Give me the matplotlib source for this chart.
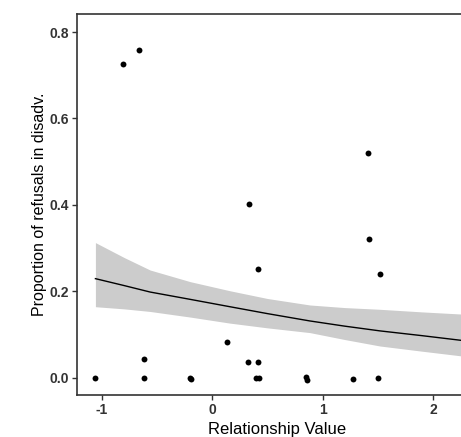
import matplotlib
matplotlib.use("Agg")
import matplotlib.pyplot as plt
import numpy as np

plt.rcParams['font.family'] = ['Liberation Sans', 'DejaVu Sans']

# relationship value / proportion of refusals for each dyad
rel_value = [-1.06, -0.81, -0.665, -0.616, -0.616, -0.20, -0.195, 0.136,
             0.327, 0.333, 0.40, 0.411, 0.411, 0.426, 0.85, 0.861,
             1.278, 1.409, 1.418, 1.506, 1.517]
prop_refusals = [0.0, 0.726, 0.758, 0.043, 0.0, 0.0, -0.003, 0.082,
                 0.037, 0.402, 0.0, 0.252, 0.037, 0.0, 0.002, -0.005,
                 -0.003, 0.521, 0.320, 0.0, 0.239]

# fitted model and its confidence band
fit_x = [-1.06, -0.8, -0.564, -0.2, 0.159, 0.5, 0.885, 1.2, 1.52, 1.9, 2.26, 2.5]
fit_y = [0.229, 0.213, 0.198, 0.181, 0.164, 0.148, 0.131, 0.119, 0.108, 0.097, 0.086, 0.080]
fit_lo = [0.164, 0.159, 0.153, 0.140, 0.126, 0.115, 0.104, 0.088, 0.073, 0.061, 0.050, 0.044]
fit_hi = [0.3125, 0.278, 0.249, 0.222, 0.201, 0.183, 0.168, 0.162, 0.158, 0.152, 0.147, 0.145]

xticks = [-1, 0, 1, 2]
yticks = [0.0, 0.2, 0.4, 0.6, 0.8]

fig = plt.figure(figsize=(4.61, 4.37), dpi=100)
ax = fig.add_axes([77/461, 42/437, 400/461, 381/437])

ax.fill_between(fit_x, fit_lo, fit_hi, color='#cccccc', linewidth=0, zorder=1)
ax.plot(fit_x, fit_y, color='black', linewidth=1.0, zorder=2)
ax.scatter(rel_value, prop_refusals, s=18, color='black', linewidths=0, zorder=3)

ax.set_xlim(-1.227, 2.4)
ax.set_ylim(-0.0405, 0.842)
ax.set_xticks(xticks)
ax.set_xticklabels(['-1', '0', '1', '2'])
ax.set_yticks(yticks)
ax.set_yticklabels(['%.1f' % v for v in yticks])

for sp in ax.spines.values():
    sp.set_color('#333333')
    sp.set_linewidth(1.2)
ax.tick_params(direction='out', length=3.5, width=1.0, color='#333333',
               labelcolor='#333333', labelsize=10, pad=2)
for lab in ax.get_xticklabels() + ax.get_yticklabels():
    lab.set_fontweight('bold')

ax.set_xlabel('Relationship Value', fontsize=12, labelpad=4)
ax.set_ylabel('Proportion of refusals in disadv.', fontsize=11.5, labelpad=2)

fig.savefig('out.png', dpi=100)
